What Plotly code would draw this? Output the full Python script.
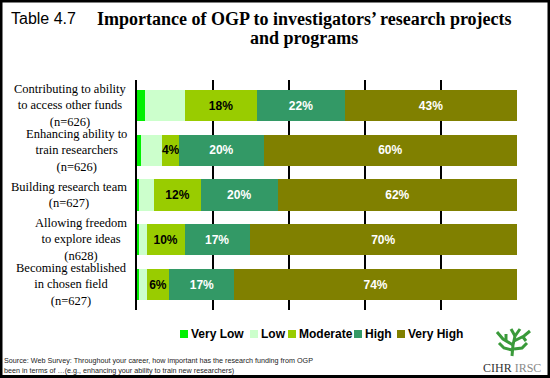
import plotly.graph_objects as go

categories = ["c1", "c2", "c3", "c4", "c5"]
category_labels = [
    "Contributing to ability<br>to access other funds<br>(n=626)",
    "Enhancing ability to<br>train researchers<br>(n=626)",
    "Building research team<br>(n=627)",
    "Allowing freedom<br>to explore ideas<br>(n628)",
    "Becoming established<br>in chosen field<br>(n=627)",
]
series_names = ["Very Low", "Low", "Moderate", "High", "Very High"]
very_low = [2, 1, 0.5, 0.5, 0.5]
low = [10, 5, 4, 2, 2]
moderate = [18, 4, 12, 10, 6]
high = [22, 20, 20, 17, 17]
very_high = [43, 60, 62, 70, 74]
series_values = [very_low, low, moderate, high, very_high]
series_colors = ["#00F000", "#CCFFCC", "#99CC00", "#339966", "#808000"]
label_colors = [None, None, "black", "white", "white"]

# Layout geometry (pixels)
W, H = 550, 378
L, R, T, B = 137, 33, 80, 68
PW, PH = W - L - R, H - T - B


def X(px):
    return (px - L) / PW


def Y(py):
    return (H - B - py) / PH


fig = go.Figure()
for name, vals, col, lc in zip(series_names, series_values, series_colors, label_colors):
    kw = {}
    if lc is not None:
        kw = dict(
            text=[f"{v:g}%" for v in vals],
            textposition="inside",
            insidetextanchor="middle",
            textangle=0,
            textfont=dict(family="Liberation Sans, Arial", size=12, color=lc, weight="bold"),
            constraintext="none",
        )
    fig.add_trace(go.Bar(
        y=categories, x=vals, name=name, orientation="h",
        marker=dict(color=col, line=dict(width=0)),
        showlegend=False, hoverinfo="skip", **kw,
    ))

fig.update_layout(
    width=W, height=H,
    margin=dict(l=L, r=R, t=T, b=B, pad=0),
    paper_bgcolor="white", plot_bgcolor="white",
    barmode="stack", barnorm="percent", bargap=0.3,
    uniformtext=dict(minsize=12, mode="show"),
    xaxis=dict(range=[0, 100], dtick=20, showgrid=True, gridcolor="black", gridwidth=2,
               showticklabels=False, zeroline=False, showline=False, fixedrange=True),
    yaxis=dict(type="category", categoryorder="array", categoryarray=categories,
               autorange="reversed", showticklabels=False, showgrid=False,
               showline=True, linecolor="black", linewidth=2, ticks="", fixedrange=True),
)

annotations = []
# Row labels
for cat, lab in zip(categories, category_labels):
    annotations.append(dict(
        x=X(129), xref="paper", y=cat, yref="y", xanchor="right", yanchor="middle",
        align="center", showarrow=False, text=lab,
        font=dict(family="Liberation Serif, Times New Roman", size=12.5, color="black"),
    ))

# Table number and title
annotations.append(dict(x=X(9), y=Y(19), xref="paper", yref="paper", xanchor="left", yanchor="middle",
                        showarrow=False, text="Table 4.7",
                        font=dict(family="Liberation Sans, Arial", size=16, color="black")))
annotations.append(dict(x=X(304), y=Y(18.5), xref="paper", yref="paper", xanchor="center", yanchor="middle",
                        showarrow=False, text="<b>Importance of OGP to investigators’ research projects</b>",
                        font=dict(family="Liberation Serif, Times New Roman", size=18, color="black")))
annotations.append(dict(x=X(304), y=Y(38), xref="paper", yref="paper", xanchor="center", yanchor="middle",
                        showarrow=False, text="<b>and programs</b>",
                        font=dict(family="Liberation Serif, Times New Roman", size=18, color="black")))

# Legend (custom)
legend_sq = [180, 250, 288, 354, 397]
shapes = []
for nm, col, sx in zip(series_names, series_colors, legend_sq):
    shapes.append(dict(type="rect", xref="paper", yref="paper",
                       x0=X(sx), x1=X(sx + 8), y0=Y(338), y1=Y(330),
                       fillcolor=col, line=dict(width=0)))
    annotations.append(dict(x=X(sx + 9), y=Y(334), xref="paper", yref="paper", xanchor="left",
                            yanchor="middle", showarrow=False, text=f"<b>{nm}</b>",
                            font=dict(family="Liberation Sans, Arial", size=12, color="black")))

# Source
src_font = dict(family="Liberation Sans, Arial", size=7.2, color="#222222")
annotations.append(dict(x=X(2), y=Y(360), xref="paper", yref="paper", xanchor="left", yanchor="middle",
                        showarrow=False,
                        text="Source: Web Survey: Throughout your career, how important has the research funding from OGP",
                        font=src_font))
annotations.append(dict(x=X(2), y=Y(370.5), xref="paper", yref="paper", xanchor="left", yanchor="middle",
                        showarrow=False,
                        text="been in terms of …(e.g., enhancing your ability to train new researchers)",
                        font=src_font))

# Logo text
annotations.append(dict(x=X(512), y=Y(368), xref="paper", yref="paper", xanchor="center", yanchor="middle",
                        showarrow=False,
                        text="<span style='color:#333'>CIHR</span> <span style='color:#8a8a8a'>IRSC</span>",
                        font=dict(family="Liberation Serif, Times New Roman", size=12)))

# Logo tree (approximate strokes)
def P(pts):
    return "M " + " L ".join(f"{X(a)},{Y(b)}" for a, b in pts)

tree_strokes = [
    [(512, 356), (513, 345), (515, 336)],
    [(513, 345), (503, 339), (497, 332)],
    [(514, 341), (524, 336), (530, 331)],
    [(512, 350), (504, 348), (499, 343)],
    [(514, 349), (522, 348), (527, 343)],
    [(515, 336), (511, 329)],
    [(515, 336), (520, 329)],
    [(506, 340), (506, 334)],
    [(523, 337), (526, 341)],
]
for s in tree_strokes:
    shapes.append(dict(type="path", xref="paper", yref="paper", path=P(s),
                       line=dict(color="#3a9a3a", width=3)))

# Outer border
shapes.append(dict(type="rect", xref="paper", yref="paper",
                   x0=X(1), x1=X(549), y0=Y(376.5), y1=Y(1),
                   line=dict(color="black", width=3), fillcolor="rgba(0,0,0,0)"))

fig.update_layout(annotations=annotations, shapes=shapes)
fig.write_html(
    "out.html",
    config={"displayModeBar": False, "staticPlot": False},
    post_script="document.body.style.margin='0';document.body.style.padding='0';document.body.style.overflow='hidden';",
)
